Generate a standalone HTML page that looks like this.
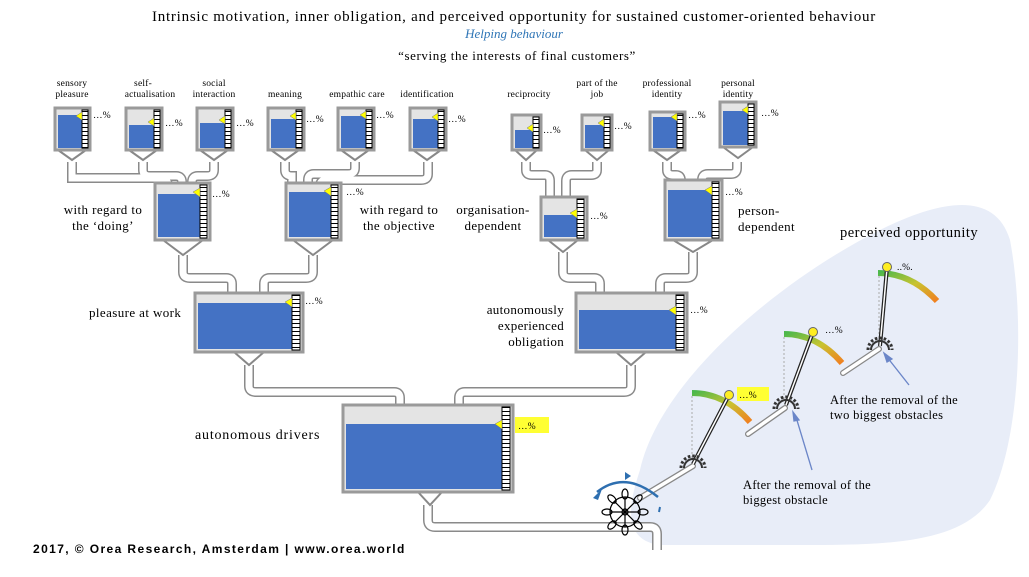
<!DOCTYPE html>
<html><head><meta charset="utf-8"><style>
html,body{margin:0;padding:0;background:#fff;}
svg{display:block;font-family:"Liberation Serif",serif;}
.s{font-size:9.5px;letter-spacing:0.2px;}
</style></head><body>
<svg width="1029" height="577" viewBox="0 0 1029 577" xmlns="http://www.w3.org/2000/svg">
<defs>
<pattern id="tk" width="6" height="4" patternUnits="userSpaceOnUse"><rect width="6" height="4" fill="#fff"/><line x1="0" y1="3.5" x2="6" y2="3.5" stroke="#000" stroke-width="1"/></pattern>
<linearGradient id="gg" x1="0" y1="0" x2="1" y2="1"><stop offset="0" stop-color="#4cb84c"/><stop offset="0.5" stop-color="#c8c430"/><stop offset="1" stop-color="#f08020"/></linearGradient>
<g id="pipes" fill="none">
<path d="M72 162 V178 H160 Q168 178 168 186 V190"/>
<path d="M143 162 V170 Q143 176 150 176 H176 Q182 176 182 182 V190"/>
<path d="M214 162 V170 Q214 176 207 176 H198 Q192 176 192 182 V190"/>
<path d="M285 162 V170 Q285 176 292 176 V190"/>
<path d="M355 162 V168 Q355 174 348 174 H314 Q308 174 308 180 V190"/>
<path d="M428 162 V174 Q428 180 421 180 H326 Q320 180 320 186 V190"/>
<path d="M526 162 V170 Q526 175 532 175 H545 Q550 175 550 181 V200"/>
<path d="M597 162 V170 Q597 175 591 175 H572 Q566 175 566 181 V200"/>
<path d="M667 162 V170 Q667 175 673 175 H676 Q681 175 681 181 V183"/>
<path d="M737 162 V168 Q737 174 731 174 H708 Q702 174 702 180 V183"/>
<path d="M183 255 V272 Q183 278 190 278 H226 Q232 278 232 284 V296"/>
<path d="M313 255 V272 Q313 278 306 278 H270 Q264 278 264 284 V296"/>
<path d="M563 252 V272 Q563 278 570 278 H594 Q600 278 600 284 V296"/>
<path d="M693 252 V272 Q693 278 686 278 H666 Q660 278 660 284 V296"/>
<path d="M249 365 V386 Q249 392 256 392 H394 Q400 392 400 398 V408"/>
<path d="M631 365 V386 Q631 392 624 392 H465 Q459 392 459 398 V408"/>
<path d="M428 505 V520 Q428 527 435 527 H650 Q657 527 657 534 V550"/>
</g>
</defs>
<rect width="1029" height="577" fill="#fff"/>
<path d="M640 470 C660 380 780 280 880 230 C940 200 995 190 1010 240 C1025 320 1020 440 990 500 C960 545 880 545 800 545 L660 545 C620 540 630 500 640 470 Z" fill="#e8edf8"/>

<text x="514" y="21" text-anchor="middle" font-size="15" letter-spacing="0.75">Intrinsic motivation, inner obligation, and perceived opportunity for sustained customer-oriented behaviour</text>
<text x="514" y="38" text-anchor="middle" font-size="13" font-style="italic" fill="#2e75b6">Helping behaviour</text>
<text x="517" y="60" text-anchor="middle" font-size="13" letter-spacing="0.6">“serving the interests of final customers”</text>

<g class="s" text-anchor="middle">
<text x="72" y="86">sensory</text><text x="72" y="97">pleasure</text>
<text x="143" y="86">self-</text><text x="150" y="97">actualisation</text>
<text x="214" y="86">social</text><text x="214" y="97">interaction</text>
<text x="285" y="97">meaning</text>
<text x="357" y="97">empathic care</text>
<text x="427" y="97">identification</text>
<text x="529" y="97">reciprocity</text>
<text x="597" y="86">part of the</text><text x="597" y="97">job</text>
<text x="667" y="86">professional</text><text x="667" y="97">identity</text>
<text x="738" y="86">personal</text><text x="738" y="97">identity</text>
</g>

<use href="#pipes" stroke="#8a8a8a" stroke-width="10"/>
<use href="#pipes" stroke="#fff" stroke-width="7"/>

<g>
<g><path d="M58 150 L72 160 L86 150" fill="none" stroke="#888" stroke-width="2"/><rect x="55" y="108" width="35" height="42" fill="#e4e4e4" stroke="#9a9a9a" stroke-width="3"/><rect x="58" y="115" width="24" height="33" fill="#4472c4"/><rect x="82" y="110" width="6" height="38" fill="url(#tk)" stroke="#000" stroke-width="1"/><polygon points="82,112 82,120 76,116" fill="#ff0" stroke="#777" stroke-width=".5"/></g>
<g><path d="M129 150 L143 160 L157 150" fill="none" stroke="#888" stroke-width="2"/><rect x="126" y="108" width="36" height="42" fill="#e4e4e4" stroke="#9a9a9a" stroke-width="3"/><rect x="129" y="125" width="25" height="23" fill="#4472c4"/><rect x="154" y="110" width="6" height="38" fill="url(#tk)" stroke="#000" stroke-width="1"/><polygon points="154,118 154,126 148,122" fill="#ff0" stroke="#777" stroke-width=".5"/></g>
<g><path d="M200 150 L214 160 L228 150" fill="none" stroke="#888" stroke-width="2"/><rect x="197" y="108" width="36" height="42" fill="#e4e4e4" stroke="#9a9a9a" stroke-width="3"/><rect x="200" y="123" width="25" height="25" fill="#4472c4"/><rect x="225" y="110" width="6" height="38" fill="url(#tk)" stroke="#000" stroke-width="1"/><polygon points="225,116 225,124 219,120" fill="#ff0" stroke="#777" stroke-width=".5"/></g>
<g><path d="M271 150 L285 160 L299 150" fill="none" stroke="#888" stroke-width="2"/><rect x="268" y="108" width="36" height="42" fill="#e4e4e4" stroke="#9a9a9a" stroke-width="3"/><rect x="271" y="119" width="25" height="29" fill="#4472c4"/><rect x="296" y="110" width="6" height="38" fill="url(#tk)" stroke="#000" stroke-width="1"/><polygon points="296,112 296,120 290,116" fill="#ff0" stroke="#777" stroke-width=".5"/></g>
<g><path d="M341 150 L355 160 L369 150" fill="none" stroke="#888" stroke-width="2"/><rect x="338" y="108" width="36" height="42" fill="#e4e4e4" stroke="#9a9a9a" stroke-width="3"/><rect x="341" y="116" width="25" height="32" fill="#4472c4"/><rect x="366" y="110" width="6" height="38" fill="url(#tk)" stroke="#000" stroke-width="1"/><polygon points="366,111 366,119 360,115" fill="#ff0" stroke="#777" stroke-width=".5"/></g>
<g><path d="M413 150 L427 160 L441 150" fill="none" stroke="#888" stroke-width="2"/><rect x="410" y="108" width="36" height="42" fill="#e4e4e4" stroke="#9a9a9a" stroke-width="3"/><rect x="413" y="119" width="25" height="29" fill="#4472c4"/><rect x="438" y="110" width="6" height="38" fill="url(#tk)" stroke="#000" stroke-width="1"/><polygon points="438,113 438,121 432,117" fill="#ff0" stroke="#777" stroke-width=".5"/></g>
<g><path d="M515 150 L526 160 L537 150" fill="none" stroke="#888" stroke-width="2"/><rect x="512" y="115" width="29" height="35" fill="#e4e4e4" stroke="#9a9a9a" stroke-width="3"/><rect x="515" y="130" width="18" height="18" fill="#4472c4"/><rect x="533" y="117" width="6" height="31" fill="url(#tk)" stroke="#000" stroke-width="1"/><polygon points="533,124 533,132 527,128" fill="#ff0" stroke="#777" stroke-width=".5"/></g>
<g><path d="M585 150 L597 160 L609 150" fill="none" stroke="#888" stroke-width="2"/><rect x="582" y="115" width="30" height="35" fill="#e4e4e4" stroke="#9a9a9a" stroke-width="3"/><rect x="585" y="125" width="19" height="23" fill="#4472c4"/><rect x="604" y="117" width="6" height="31" fill="url(#tk)" stroke="#000" stroke-width="1"/><polygon points="604,119 604,127 598,123" fill="#ff0" stroke="#777" stroke-width=".5"/></g>
<g><path d="M653 150 L667 160 L681 150" fill="none" stroke="#888" stroke-width="2"/><rect x="650" y="112" width="35" height="38" fill="#e4e4e4" stroke="#9a9a9a" stroke-width="3"/><rect x="653" y="117" width="24" height="31" fill="#4472c4"/><rect x="677" y="114" width="6" height="34" fill="url(#tk)" stroke="#000" stroke-width="1"/><polygon points="677,113 677,121 671,117" fill="#ff0" stroke="#777" stroke-width=".5"/></g>
<g><path d="M723 147 L738 158 L753 147" fill="none" stroke="#888" stroke-width="2"/><rect x="720" y="102" width="36" height="45" fill="#e4e4e4" stroke="#9a9a9a" stroke-width="3"/><rect x="723" y="111" width="25" height="34" fill="#4472c4"/><rect x="748" y="104" width="6" height="41" fill="url(#tk)" stroke="#000" stroke-width="1"/><polygon points="748,106 748,114 742,110" fill="#ff0" stroke="#777" stroke-width=".5"/></g>
<g><path d="M163 240 L183 255 L203 240" fill="none" stroke="#888" stroke-width="2"/><rect x="155" y="183" width="55" height="57" fill="#e4e4e4" stroke="#9a9a9a" stroke-width="3"/><rect x="158" y="194" width="42" height="43" fill="#4472c4"/><rect x="200" y="185" width="7" height="53" fill="url(#tk)" stroke="#000" stroke-width="1"/><polygon points="200,188 200,197 193,192" fill="#ff0" stroke="#777" stroke-width=".5"/></g>
<g><path d="M293 240 L313 255 L333 240" fill="none" stroke="#888" stroke-width="2"/><rect x="286" y="183" width="55" height="57" fill="#e4e4e4" stroke="#9a9a9a" stroke-width="3"/><rect x="289" y="192" width="42" height="45" fill="#4472c4"/><rect x="331" y="185" width="7" height="53" fill="url(#tk)" stroke="#000" stroke-width="1"/><polygon points="331,187 331,196 324,191" fill="#ff0" stroke="#777" stroke-width=".5"/></g>
<g><path d="M548 240 L563 252 L578 240" fill="none" stroke="#888" stroke-width="2"/><rect x="541" y="197" width="46" height="43" fill="#e4e4e4" stroke="#9a9a9a" stroke-width="3"/><rect x="544" y="215" width="33" height="22" fill="#4472c4"/><rect x="577" y="199" width="7" height="39" fill="url(#tk)" stroke="#000" stroke-width="1"/><polygon points="577,209 577,218 570,213" fill="#ff0" stroke="#777" stroke-width=".5"/></g>
<g><path d="M673 240 L693 252 L713 240" fill="none" stroke="#888" stroke-width="2"/><rect x="665" y="180" width="57" height="60" fill="#e4e4e4" stroke="#9a9a9a" stroke-width="3"/><rect x="668" y="190" width="44" height="47" fill="#4472c4"/><rect x="712" y="182" width="7" height="56" fill="url(#tk)" stroke="#000" stroke-width="1"/><polygon points="712,186 712,195 705,190" fill="#ff0" stroke="#777" stroke-width=".5"/></g>
<g><path d="M234 352 L249 365 L264 352" fill="none" stroke="#888" stroke-width="2"/><rect x="195" y="293" width="108" height="59" fill="#e4e4e4" stroke="#9a9a9a" stroke-width="3"/><rect x="198" y="303" width="94" height="46" fill="#4472c4"/><rect x="292" y="295" width="8" height="55" fill="url(#tk)" stroke="#000" stroke-width="1"/><polygon points="292,298 292,307 285,302" fill="#ff0" stroke="#777" stroke-width=".5"/></g>
<g><path d="M616 352 L631 365 L646 352" fill="none" stroke="#888" stroke-width="2"/><rect x="576" y="293" width="111" height="59" fill="#e4e4e4" stroke="#9a9a9a" stroke-width="3"/><rect x="579" y="310" width="97" height="39" fill="#4472c4"/><rect x="676" y="295" width="8" height="55" fill="url(#tk)" stroke="#000" stroke-width="1"/><polygon points="676,306 676,315 669,310" fill="#ff0" stroke="#777" stroke-width=".5"/></g>
<g><path d="M418 492 L430 505 L442 492" fill="none" stroke="#888" stroke-width="2"/><rect x="343" y="405" width="170" height="87" fill="#e4e4e4" stroke="#9a9a9a" stroke-width="3"/><rect x="346" y="424" width="156" height="65" fill="#4472c4"/><rect x="502" y="407" width="8" height="83" fill="url(#tk)" stroke="#000" stroke-width="1"/><polygon points="502,420 502,429 495,424" fill="#ff0" stroke="#777" stroke-width=".5"/></g>
</g>

<g class="s">
<text x="93" y="118">…%</text><text x="165" y="126">…%</text><text x="236" y="126">…%</text><text x="306" y="122">…%</text><text x="376" y="118">…%</text><text x="448" y="122">…%</text>
<text x="543" y="133">…%</text><text x="614" y="129">…%</text><text x="688" y="118">…%</text><text x="761" y="116">…%</text>
<text x="212" y="197">…%</text><text x="346" y="195">…%</text><text x="590" y="219">…%</text><text x="725" y="195">…%</text>
<text x="305" y="304">…%</text><text x="690" y="313">…%</text>
</g>
<rect x="515" y="417" width="34" height="16" fill="#ffff33"/><text x="518" y="429" class="s">…%</text>
<rect x="737" y="387" width="32" height="14" fill="#ffff33"/><text x="739" y="398" class="s">…%</text>
<text x="825" y="333" class="s">…%</text><text x="897" y="270" class="s">..%.</text>

<g font-size="13" letter-spacing="0.4" text-anchor="middle">
<text x="103" y="214">with regard to</text><text x="103" y="230">the ‘doing’</text>
<text x="399" y="214">with regard to</text><text x="399" y="230">the objective</text>
<text x="493" y="214">organisation-</text><text x="493" y="230">dependent</text>
</g>
<g font-size="13" letter-spacing="0.4">
<text x="738" y="215">person-</text><text x="738" y="231">dependent</text>
<text x="89" y="317">pleasure at work</text>
<text x="195" y="439" font-size="14" letter-spacing="0.8">autonomous drivers</text>
<text x="840" y="237" font-size="14.5" letter-spacing="0.5">perceived opportunity</text>
</g>
<g font-size="13" letter-spacing="0.3" text-anchor="end">
<text x="564" y="314">autonomously</text><text x="564" y="330">experienced</text><text x="564" y="346">obligation</text>
</g>
<g font-size="12.5" letter-spacing="0.3">
<text x="743" y="489">After the removal of the</text><text x="743" y="504">biggest obstacle</text>
<text x="830" y="404">After the removal of the</text><text x="830" y="419">two biggest obstacles</text>
</g>
<text x="33" y="553" font-family="Liberation Sans,sans-serif" font-size="12" font-weight="bold" letter-spacing="1.4">2017, © Orea Research, Amsterdam | www.orea.world</text>

<g fill="none">
<path d="M692 393 Q725 393 750 422" stroke="url(#gg)" stroke-width="6"/>
<path d="M784 334 Q817 334 842 363" stroke="url(#gg)" stroke-width="6"/>
<path d="M878 273 Q911 273 937 301" stroke="url(#gg)" stroke-width="6"/>
<g stroke="#aaa" stroke-dasharray="2 2"><path d="M692 396 V460"/><path d="M784 337 V400"/><path d="M879 276 V340"/></g>
<g stroke="#888" stroke-width="6" stroke-linecap="round"><path d="M693 466 L640 498"/><path d="M785 408 L748 434"/><path d="M879 349 L843 373"/></g>
<g stroke="#fff" stroke-width="3.5" stroke-linecap="round"><path d="M693 466 L640 498"/><path d="M785 408 L748 434"/><path d="M879 349 L843 373"/></g>
<g stroke="#222" stroke-width="4"><path d="M693 464 L729 395"/><path d="M786 405 L813 332"/><path d="M880 346 L887 268"/></g>
<g stroke="#fff" stroke-width="1.5"><path d="M693 464 L729 395"/><path d="M786 405 L813 332"/><path d="M880 346 L887 268"/></g>
<g stroke="#333" stroke-width="3" stroke-dasharray="2.5 2"><path d="M681 468 A12 12 0 0 1 705 468"/><path d="M774 409 A12 12 0 0 1 798 409"/><path d="M868 350 A12 12 0 0 1 892 350"/></g>
<g stroke="#333" stroke-width="2"><path d="M684 468 A9 9 0 0 1 702 468"/><path d="M777 409 A9 9 0 0 1 795 409"/><path d="M871 350 A9 9 0 0 1 889 350"/></g>
</g>
<g fill="#ffee22" stroke="#666" stroke-width="1"><circle cx="729" cy="395" r="4.5"/><circle cx="813" cy="332" r="4.5"/><circle cx="887" cy="267" r="4.5"/></g>
<g stroke="#6b86c8" stroke-width="1.3" fill="#6b86c8"><path d="M812 470 L796 417"/><polygon points="793,412 799,420 794,421"/><path d="M909 385 L887 357"/><polygon points="884,353 892,359 887,362"/></g>

<g fill="none" stroke="#000" stroke-width="1.2">
<circle cx="625" cy="512" r="15"/><circle cx="625" cy="512" r="3"/>
<path d="M610 512 H640 M625 497 V527 M614 501 L636 523 M636 501 L614 523"/>
<ellipse cx="625" cy="494" rx="3" ry="5"/><ellipse cx="625" cy="530" rx="3" ry="5"/><ellipse cx="607" cy="512" rx="5" ry="3"/><ellipse cx="643" cy="512" rx="5" ry="3"/>
<ellipse cx="612" cy="499" rx="3" ry="5" transform="rotate(-45 612 499)"/><ellipse cx="638" cy="499" rx="3" ry="5" transform="rotate(45 638 499)"/><ellipse cx="612" cy="525" rx="3" ry="5" transform="rotate(45 612 525)"/><ellipse cx="638" cy="525" rx="3" ry="5" transform="rotate(-45 638 525)"/>
</g>
<path d="M597 492 Q625 470 658 497" fill="none" stroke="#2e6fb0" stroke-width="2.5"/>
<polygon points="593,498 602,489 598,500" fill="#2e6fb0"/>
<polygon points="631,476 625,472 625,480" fill="#2e6fb0"/>
<line x1="660" y1="507" x2="659" y2="512" stroke="#2e6fb0" stroke-width="2"/>
</svg>
</body></html>
